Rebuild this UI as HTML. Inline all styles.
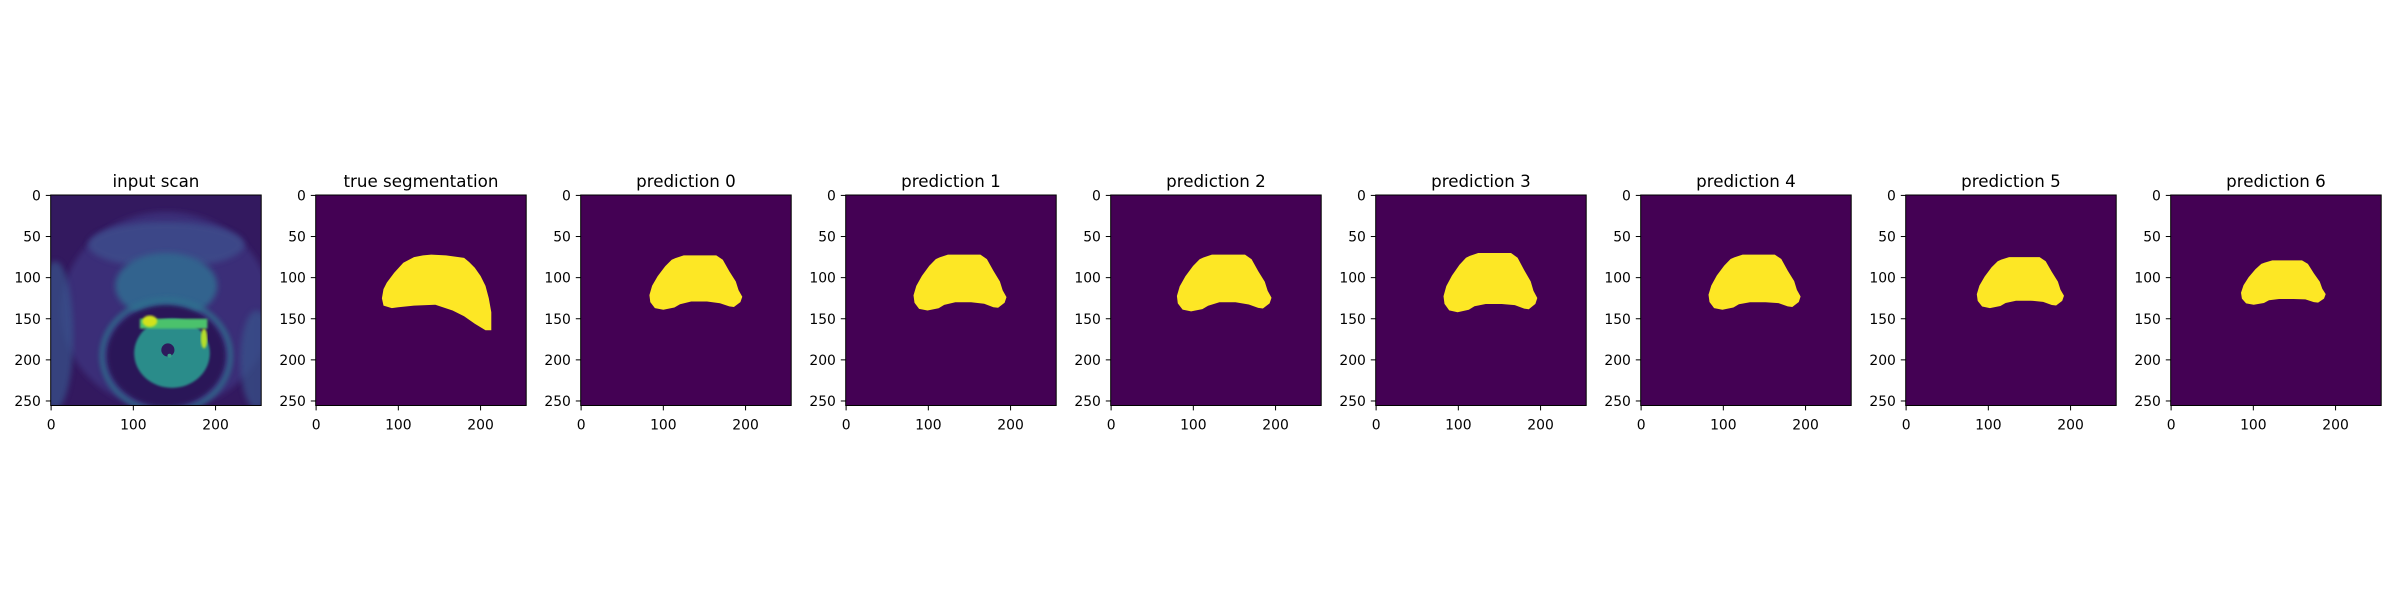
<!DOCTYPE html>
<html><head><meta charset="utf-8"><style>
html,body{margin:0;padding:0;background:#fff}
svg{display:block}
text{font-family:"DejaVu Sans","Liberation Sans",sans-serif;fill:#000}
</style></head><body>
<svg id="fig" width="2400" height="600" viewBox="0 0 2400 600">
<defs>
<filter id="blur1"><feGaussianBlur stdDeviation="1"/></filter>
<filter id="blur2"><feGaussianBlur stdDeviation="2"/></filter>
<filter id="blur4"><feGaussianBlur stdDeviation="3"/></filter>
</defs>
</svg>
<script>
const titles=["input scan","true segmentation","prediction 0","prediction 1","prediction 2","prediction 3","prediction 4","prediction 5","prediction 6"];
const yTicks=[0,50,100,150,200,250];
const xTicks=[0,100,200];
// true segmentation outline (image pixel coords x,y)
const trueSegX=[140,158,180,186,193,200,206,210,213,213,206,193,180,166,145,119,100,92,82,80,82,86,95,106,119,130];
const trueSegY=[72,73,76,81,88,98,110,125,142,164,164,156,147,140,133,134,136,137,134,125,114,106,94,82,75,73];
// prediction blobs: bounding extents per prediction
const predLeft=[83,82,80,82,82,86,85];
const predRight=[196,195,195,196,194,192,188];
const predTop=[73,72,72,70,72,75,79];
const predBottom=[139,140,141,142,139,137,133];
const predBottomMid=[129,130,130,132,130,128,126];
// base blob template (normalized; "m" = bottom concavity row)
const baseU=[0.28,0.37,0.72,0.79,0.86,0.93,0.96,1.0,0.98,0.91,0.86,0.76,0.62,0.45,0.33,0.27,0.15,0.06,0.01,0,0.03,0.09,0.17,0.24];
const baseV=[0.05,0,0,0.08,0.29,0.48,0.64,0.76,0.86,0.95,0.94,0.88,"m","m",0.9,0.96,1.0,0.97,0.86,0.73,0.56,0.38,0.2,0.08];

const NS="http://www.w3.org/2000/svg";
const svg=document.getElementById('fig');
const AX0=50.7, STEP=265, AY=195, SZ=210.5, N=256;
function mk(tag,attrs,parent){const e=document.createElementNS(NS,tag);for(const k in attrs)e.setAttribute(k,attrs[k]);(parent||svg).appendChild(e);return e;}
function sx(i,v){return AX0+i*STEP+(v+0.5)*SZ/N;}
function sy(v){return AY+(v+0.5)*SZ/N;}
const K=SZ/N;

for(let i=0;i<9;i++){
  const x0=AX0+i*STEP;
  const g=mk('g',{});
  
  
  const bg=mk('rect',{x:x0,y:AY,width:SZ,height:SZ,fill:'#440154'},g);
  
  
  if(i===0){
    const cp=mk('clipPath',{id:'cp0'},g);
    mk('rect',{x:x0,y:AY,width:SZ,height:SZ},cp);
    const sc=mk('g',{'clip-path':'url(#cp0)'},g);
    
    
    mk('rect',{x:x0,y:AY,width:SZ,height:SZ,fill:'#33195f'},sc);
    mk('ellipse',{cx:sx(0,140),cy:sy(140),rx:128*K,ry:120*K,fill:'#3b2f78',filter:'url(#blur4)'},sc);
    mk('ellipse',{cx:sx(0,5),cy:sy(170),rx:22*K,ry:90*K,fill:'#39558c',opacity:0.7,filter:'url(#blur4)'},sc);
    mk('ellipse',{cx:sx(0,250),cy:sy(200),rx:20*K,ry:60*K,fill:'#39558c',opacity:0.7,filter:'url(#blur4)'},sc);
    mk('ellipse',{cx:sx(0,140),cy:sy(60),rx:95*K,ry:28*K,fill:'#3e4b8a',opacity:0.9,filter:'url(#blur4)'},sc);
    mk('ellipse',{cx:sx(0,140),cy:sy(110),rx:62*K,ry:40*K,fill:'#32648e',filter:'url(#blur4)'},sc);
    mk('ellipse',{cx:sx(0,140),cy:sy(195),rx:72*K,ry:62*K,fill:'#2a1658',filter:'url(#blur2)'},sc);
    mk('ellipse',{cx:sx(0,140),cy:sy(195),rx:78*K,ry:68*K,fill:'none',stroke:'#2e6f8e','stroke-width':6,opacity:0.7,filter:'url(#blur2)'},sc);
    mk('ellipse',{cx:sx(0,147),cy:sy(192),rx:46*K,ry:42*K,fill:'#2b8c8a',filter:'url(#blur1)'},sc);
    mk('rect',{x:sx(0,108),y:sy(150),width:82*K,height:12*K,fill:'#4cc26c',filter:'url(#blur1)'},sc);
    mk('ellipse',{cx:sx(0,120),cy:sy(153),rx:9*K,ry:7*K,fill:'#d2e21b',filter:'url(#blur1)'},sc);
    mk('ellipse',{cx:sx(0,186),cy:sy(174),rx:4*K,ry:12*K,fill:'#b5de2b',filter:'url(#blur1)'},sc);
    mk('circle',{cx:sx(0,142),cy:sy(188),r:8*K,fill:'#2d1b5c'},sc);
    mk('circle',{cx:sx(0,144),cy:sy(195),r:2.5*K,fill:'#3aa088'},sc);
  } else if(i===1){
    const pts=trueSegX.map((v,k)=>sx(i,v).toFixed(1)+','+sy(trueSegY[k]).toFixed(1)).join(' ');
    const p=mk('polygon',{points:pts,fill:'#fde725'},g);
    
    
  } else {
    const j=i-2;
    const L=predLeft[j],R=predRight[j],T=predTop[j],B=predBottom[j],M=predBottomMid[j];
    const pts=baseU.map((u,k)=>{
      const vx=L+u*(R-L);
      const vy=baseV[k]==="m"?M:T+baseV[k]*(B-T);
      return sx(i,vx).toFixed(1)+','+sy(vy).toFixed(1);
    }).join(' ');
    const p=mk('polygon',{points:pts,fill:'#fde725'},g);
    
    
  }
  const fr=mk('rect',{x:x0,y:AY,width:SZ,height:SZ,fill:'none',stroke:'#000','stroke-width':1},g);
  
  
  const t=mk('text',{x:x0+SZ/2,y:187,'text-anchor':'middle','font-size':16.7},g);
  t.textContent=titles[i];
  
  
  yTicks.forEach(v=>{
    const y=sy(v);
    mk('line',{x1:x0,x2:x0-4.9,y1:y,y2:y,stroke:'#000','stroke-width':1},g);
    const tl=mk('text',{x:x0-9.8,y:y+5,'text-anchor':'end','font-size':13.9},g);
    tl.textContent=v;
    
    
  });
  xTicks.forEach(v=>{
    const x=sx(i,v);
    mk('line',{x1:x,x2:x,y1:AY+SZ,y2:AY+SZ+4.9,stroke:'#000','stroke-width':1},g);
    const tl=mk('text',{x:x,y:AY+SZ+24,'text-anchor':'middle','font-size':13.9},g);
    tl.textContent=v;
    
    
  });
}
</script>
</body></html>
